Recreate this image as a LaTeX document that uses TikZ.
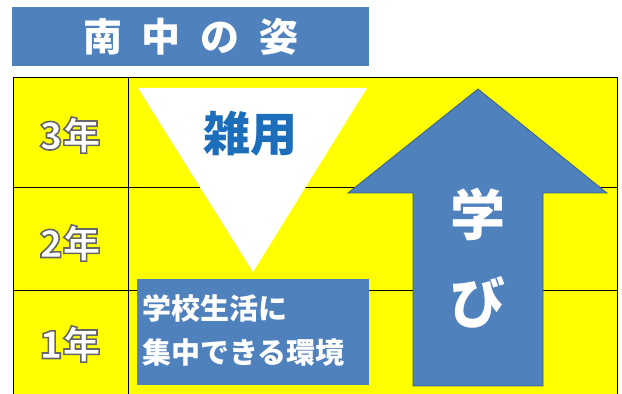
\documentclass[tikz,border=0pt]{standalone}
\usepackage{fontspec}
\setmainfont{Noto Sans CJK JP}
\definecolor{boxblue}{HTML}{4F81BD}
\definecolor{edgeblue}{HTML}{3A5F8C}
\definecolor{wordblue}{HTML}{1C6DBA}
\definecolor{markyellow}{HTML}{FFFF00}
% white letters with a grey rim
\newcommand{\rimtext}[1]{\textcolor{white}{\special{pdf:literal direct 2 Tr 1.6 w 0.4 0.4 0.4 RG}#1\special{pdf:literal direct 0 Tr}}}

\begin{document}
\begin{tikzpicture}[x=1pt, y=1pt,
    year/.style={inner sep=0pt, font=\bfseries\fontsize{38}{38}\selectfont},
    boxline/.style={anchor=west, inner sep=0pt, text=white, font=\bfseries\fontsize{29}{29}\selectfont},
    bigword/.style={inner sep=0pt, text=white, font=\bfseries\fontsize{55}{55}\selectfont}]
  \useasboundingbox (0,0) rectangle (622,394);
  \fill[white] (0,0) rectangle (622,394);
  % title
  \node [fill=boxblue, anchor=south west, minimum width=357pt, minimum height=59pt, inner sep=0pt] (title) at (12,328) {};
  \node [text=white, inner sep=0pt, font=\bfseries\fontsize{39}{39}\selectfont] (titletext) at (191,357) {南\kern20pt 中\kern20pt の\kern20pt 姿};
  % table
  \fill[markyellow] (13,0) rectangle (617,317);
  \draw [line width=0.6pt] (13,0) -- (13,317) -- (617,317) -- (617,0);
  \draw [line width=0.6pt] (128,0) -- (128,317);
  \draw [line width=0.6pt] (13,207) -- (617,207);
  \draw [line width=0.6pt] (13,104) -- (617,104);
  \node [year] (y3) at (70,259) {\rimtext{3年}};
  \node [year] (y2) at (70,151) {\rimtext{2年}};
  \node [year] (y1) at (70,50) {\rimtext{1年}};
  % triangle
  \fill[white] (138,306) -- (367,306) -- (253,122) -- cycle;
  \node [inner sep=0pt, text=wordblue, font=\bfseries\fontsize{47}{47}\selectfont] (zatsuyo) at (250,260) {雑用};
  % box
  \node [fill=boxblue, anchor=south west, minimum width=232pt, minimum height=106pt, inner sep=0pt] (env) at (137,9) {};
  \node [boxline] (line1) at (142,86) {学校生活に};
  \node [boxline] (line2) at (142,41) {集中できる環境};
  % arrow
  \filldraw [fill=boxblue, draw=edgeblue, line width=0.8pt] (478,305) -- (607,201) -- (543,201) -- (543,8) -- (413,8) -- (413,201) -- (348,201) -- cycle;
  \node [bigword] (manabi1) at (478,180) {学};
  \node [bigword] (manabi2) at (478,92) {び};
\end{tikzpicture}
\end{document}
